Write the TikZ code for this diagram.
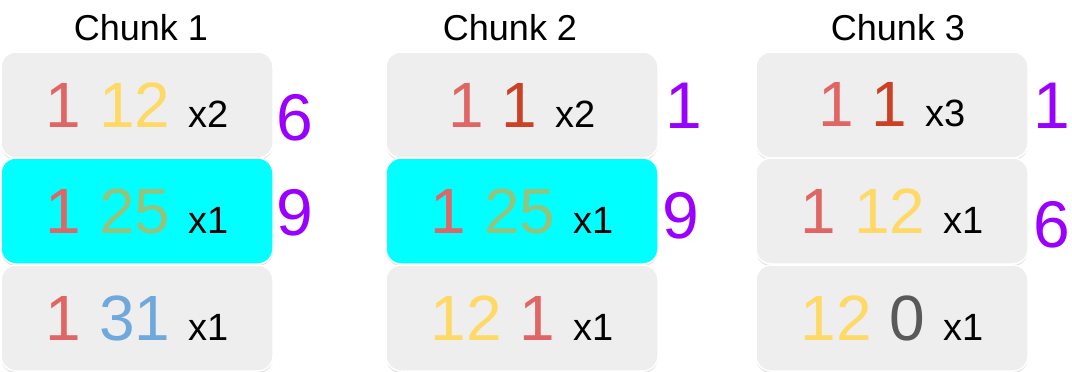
\documentclass[tikz,border=0pt]{standalone}
\usepackage{fontspec}
\setmainfont{Liberation Sans}
\usepackage{tikz}
\usetikzlibrary{shadows}

\definecolor{boxgray}{HTML}{EEEEEE}
\definecolor{aqua}{HTML}{00FFFF}
\definecolor{lightred}{HTML}{E06666}
\definecolor{darkred}{HTML}{CC4125}
\definecolor{lightyellow}{HTML}{FFD966}
\definecolor{lightgreen}{HTML}{93C47D}
\definecolor{lightblue}{HTML}{6FA8DC}
\definecolor{darkgray}{HTML}{595959}
\definecolor{violet}{HTML}{9900FF}

\newcommand{\reps}[1]{{\fontsize{38}{38}\selectfont #1}}

\tikzset{
  chunkbox/.style={draw=white, line width=1.5pt, fill=boxgray, rounded corners=15pt,
    minimum width=272pt, minimum height=106pt, inner sep=0pt,
    drop shadow={shadow xshift=0pt, shadow yshift=-2pt, opacity=0.25},
    font=\fontsize{64}{64}\selectfont},
  hotbox/.style={chunkbox, fill=aqua},
  count/.style={anchor=base, text=violet, inner sep=0pt, font=\fontsize{66}{66}\selectfont},
  title/.style={anchor=base, inner sep=0pt, font=\fontsize{36}{36}\selectfont}
}

\begin{document}
\begin{tikzpicture}[x=1pt,y=-1pt]
  \useasboundingbox (0,0) rectangle (1072,372);

  % Titles
  \node[title] (t1) at (141,40) {Chunk 1};
  \node[title] (t2) at (510,40) {Chunk 2};
  \node[title] (t3) at (898,40) {Chunk 3};

  % Chunk 1
  \node[chunkbox] (a1) at (137,105) {\textcolor{lightred}{1} \textcolor{lightyellow}{12} \reps{x2}};
  \node[hotbox]   (a2) at (137,211) {\textcolor{lightred}{1} \textcolor{lightgreen}{25} \reps{x1}};
  \node[chunkbox] (a3) at (137,318) {\textcolor{lightred}{1} \textcolor{lightblue}{31} \reps{x1}};

  % Chunk 2
  \node[chunkbox] (b1) at (522,105) {\textcolor{lightred}{1} \textcolor{darkred}{1} \reps{x2}};
  \node[hotbox]   (b2) at (522,211) {\textcolor{lightred}{1} \textcolor{lightgreen}{25} \reps{x1}};
  \node[chunkbox] (b3) at (522,318) {\textcolor{lightyellow}{12} \textcolor{lightred}{1} \reps{x1}};

  % Chunk 3
  \node[chunkbox] (c1) at (892,105) {\textcolor{lightred}{1} \textcolor{darkred}{1} \reps{x3}};
  \node[chunkbox] (c2) at (892,211) {\textcolor{lightred}{1} \textcolor{lightyellow}{12} \reps{x1}};
  \node[chunkbox] (c3) at (892,318) {\textcolor{lightyellow}{12} \textcolor{darkgray}{0} \reps{x1}};

  % Counts
  \node[count] (na1) at (295,140) {6};
  \node[count] (na2) at (295,235) {9};
  \node[count] (nb1) at (684,128) {1};
  \node[count] (nb2) at (681,238) {9};
  \node[count] (nc1) at (1052,128) {1};
  \node[count] (nc2) at (1052,247) {6};

\end{tikzpicture}
\end{document}
